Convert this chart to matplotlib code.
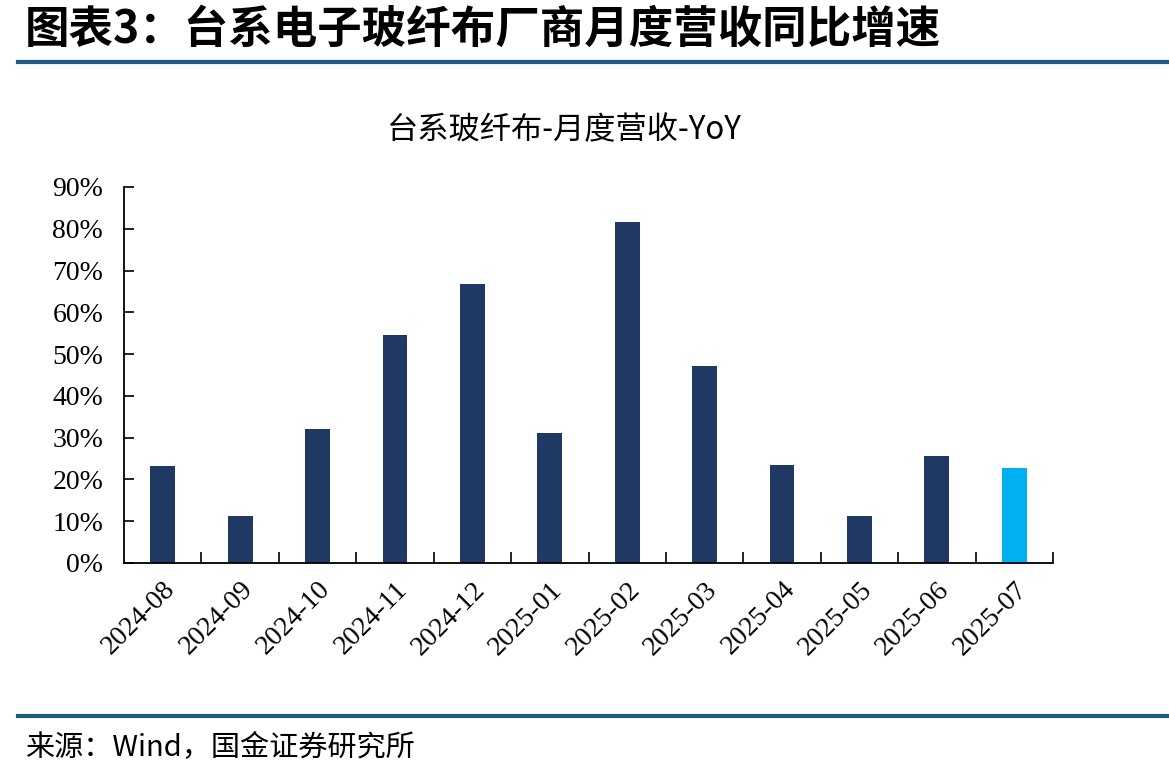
import numpy as np
import matplotlib
matplotlib.use('Agg')
import matplotlib.pyplot as plt
from matplotlib.ticker import FuncFormatter, FixedLocator

months = ['2024-08', '2024-09', '2024-10', '2024-11', '2024-12', '2025-01',
          '2025-02', '2025-03', '2025-04', '2025-05', '2025-06', '2025-07']
yoy = [23.2, 11.2, 32.1, 54.6, 66.8, 31.1, 81.6, 47.2, 23.5, 11.2, 25.6, 22.7]
yticks = [0, 10, 20, 30, 40, 50, 60, 70, 80, 90]

navy = '#203864'
cyan = '#00B0F0'
rule = '#1F5A85'

cjk = ['Noto Sans CJK SC', 'DejaVu Sans']
serif = ['Liberation Serif', 'DejaVu Serif']

fig = plt.figure(figsize=(11.69, 7.78), dpi=100)

# header and footer
fig.text(25 / 1169, 1 - 30 / 778, '图表3：台系电子玻纤布厂商月度营收同比增速', family=cjk,
         fontsize=32, fontweight='bold', style='italic', va='center', ha='left')
fig.add_artist(plt.Line2D([18 / 1169, 1], [1 - 62 / 778] * 2, color=rule, lw=3))
fig.add_artist(plt.Line2D([18 / 1169, 1], [1 - 716 / 778] * 2, color=rule, lw=3))
fig.text(25 / 1169, 1 - 748 / 778, '来源：Wind，国金证券研究所', family=cjk,
         fontsize=21, va='center', ha='left')

ax = fig.add_axes([124 / 1169, 1 - 563 / 778, (1053 - 124) / 1169, (563 - 187) / 778])
x = np.arange(len(months))
colors = [navy] * (len(months) - 1) + [cyan]
ax.bar(x, yoy, width=0.32, color=colors)

ax.set_xlim(-0.5, len(months) - 0.5)
ax.set_ylim(0, 90)
ax.set_yticks(yticks)
ax.yaxis.set_major_formatter(FuncFormatter(lambda v, p: f'{v:.0f}%'))
ax.set_xticks(x)
ax.set_xticklabels(months, rotation=45, ha='right', rotation_mode='anchor')
ax.xaxis.set_minor_locator(FixedLocator(np.arange(0.5, len(months), 1.0)))
ax.tick_params(axis='x', which='major', length=0, pad=10)
ax.tick_params(axis='x', which='minor', direction='in', length=8, width=1.2)
ax.tick_params(axis='y', direction='in', length=7, width=1.2, pad=15)
for lab in ax.get_xticklabels() + ax.get_yticklabels():
    lab.set_family(serif)
    lab.set_fontsize(20)

for s in ['top', 'right']:
    ax.spines[s].set_visible(False)
for s in ['left', 'bottom']:
    ax.spines[s].set_linewidth(1.3)

fig.text(564 / 1169, 1 - 130 / 778, '台系玻纤布-月度营收-YoY', family=cjk, fontsize=22.5,
         ha='center', va='center')

fig.savefig('out.png', dpi=100)
